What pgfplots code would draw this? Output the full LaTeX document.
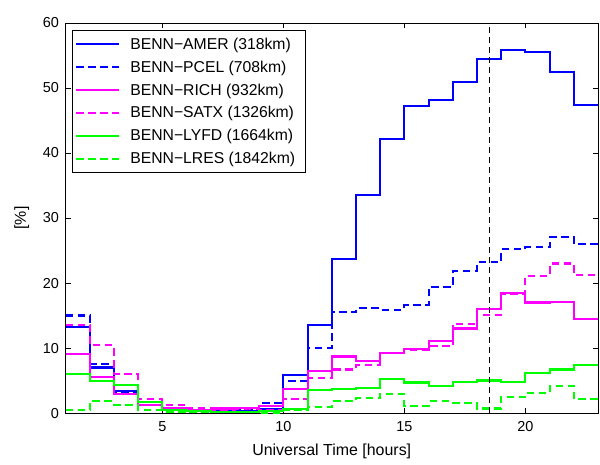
\documentclass[border=0pt]{standalone}
\usepackage{pgfplots}
\pgfplotsset{compat=1.18}
\usepackage{fontspec}
\setmainfont{Liberation Sans}
\definecolor{mblue}{RGB}{0,0,255}
\definecolor{mmag}{RGB}{255,0,255}
\definecolor{mgreen}{RGB}{0,255,0}
\pgfplotsset{
  sty/.style={line width=2.1pt, const plot mark left},
  dsh/.style={dash pattern=on 7.5bp off 4.5bp},
}
\begin{document}
\begin{tikzpicture}
\begin{axis}[
  scale only axis,
  width=532.5bp, height=390bp,
  xmin=1, xmax=23, ymin=0, ymax=60,
  xtick={5,10,15,20}, ytick={0,10,20,30,40,50,60},
  tick align=inside,
  major tick length=5bp,
  /pgf/number format/assume math mode=true,
  tick label style={font=\fontsize{14.5}{17}\selectfont},
  yticklabel style={xshift=-3bp},
  xticklabel style={yshift=-5bp},
  label style={font=\fontsize{16}{19}\selectfont},
  xlabel={Universal Time [hours]},
  ylabel={[\%]},
  xlabel style={yshift=-5bp},
  ylabel style={yshift=7bp},
  axis line style={line width=0.6pt},
  every tick/.style={black, line width=0.6pt},
  legend cell align=left,
  legend style={at={(0.012,0.982)}, anchor=north west, draw=black, line width=0.6pt,
    font=\fontsize{15.8}{19}\selectfont, row sep=6bp, inner xsep=3bp, inner ysep=5.5bp},
  legend image code/.code={\draw[#1] plot coordinates {(0bp,0bp) (43bp,0bp)}; \path (51bp,0bp);},
]
\addplot[mblue, sty] coordinates {(1,13.2)(2,7.0)(3,3.4)(4,1.2)(5,0.6)(6,0.3)(7,0.3)(8,0.3)(9,0.6)(10,5.8)(11,13.5)(12,23.7)(13,33.6)(14,42.2)(15,47.2)(16,48.2)(17,50.9)(18,54.5)(19,55.8)(20,55.5)(21,52.4)(22,47.4)(23,47.4)};
\addlegendentry{BENN−AMER (318km)\kern5bp}
\addplot[mblue, sty, dsh] coordinates {(1,15.0)(2,7.6)(3,3.3)(4,1.3)(5,0.5)(6,0.4)(7,0.3)(8,0.4)(9,1.5)(10,4.9)(11,10.0)(12,15.5)(13,16.1)(14,15.9)(15,16.6)(16,19.4)(17,21.9)(18,23.2)(19,25.2)(20,25.5)(21,27.1)(22,26.0)(23,26.0)};
\addlegendentry{BENN−PCEL (708km)\kern5bp}
\addplot[mmag, sty] coordinates {(1,9.1)(2,5.6)(3,2.9)(4,1.2)(5,0.7)(6,0.5)(7,0.7)(8,0.8)(9,1.1)(10,3.7)(11,6.4)(12,8.7)(13,8.0)(14,9.2)(15,9.8)(16,11.1)(17,13.0)(18,16.0)(19,18.4)(20,17.0)(21,17.1)(22,14.4)(23,14.4)};
\addlegendentry{BENN−RICH (932km)\kern5bp}
\addplot[mmag, sty, dsh] coordinates {(1,13.6)(2,10.4)(3,6.0)(4,2.1)(5,1.3)(6,0.7)(7,0.5)(8,0.6)(9,0.4)(10,2.1)(11,5.4)(12,6.7)(13,7.4)(14,9.3)(15,9.7)(16,10.3)(17,13.7)(18,15.1)(19,18.3)(20,21.1)(21,23.0)(22,21.2)(23,21.2)};
\addlegendentry{BENN−SATX (1326km)\kern5bp}
\addplot[mgreen, sty] coordinates {(1,6.0)(2,4.9)(3,4.3)(4,1.7)(5,0.4)(6,0.3)(7,0.2)(8,0.1)(9,0.3)(10,0.6)(11,3.5)(12,3.7)(13,3.9)(14,5.2)(15,4.7)(16,4.2)(17,4.8)(18,5.0)(19,4.8)(20,6.2)(21,6.7)(22,7.4)(23,7.4)};
\addlegendentry{BENN−LYFD (1664km)\kern5bp}
\addplot[mgreen, sty, dsh] coordinates {(1,0.4)(2,1.8)(3,1.3)(4,0.5)(5,0.2)(6,0.1)(7,0.1)(8,0.1)(9,0.0)(10,0.4)(11,0.9)(12,1.8)(13,2.3)(14,2.9)(15,1.1)(16,1.8)(17,1.6)(18,0.7)(19,2.5)(20,3.1)(21,4.2)(22,2.1)(23,2.1)};
\addlegendentry{BENN−LRES (1842km)\kern5bp}
\addplot[black, line width=0.8pt, dash pattern=on 6bp off 4bp, forget plot] coordinates {(18.5,0)(18.5,60)};
\node[above, inner sep=3bp, font=\fontsize{16}{19}\selectfont] at (axis cs:18.5,60) {noon};
\coordinate (bl) at (rel axis cs:-0.123,-0.131);
\coordinate (tr) at (rel axis cs:1.0037,1.059);
\end{axis}
\path (bl) rectangle (tr);
\end{tikzpicture}
\end{document}
